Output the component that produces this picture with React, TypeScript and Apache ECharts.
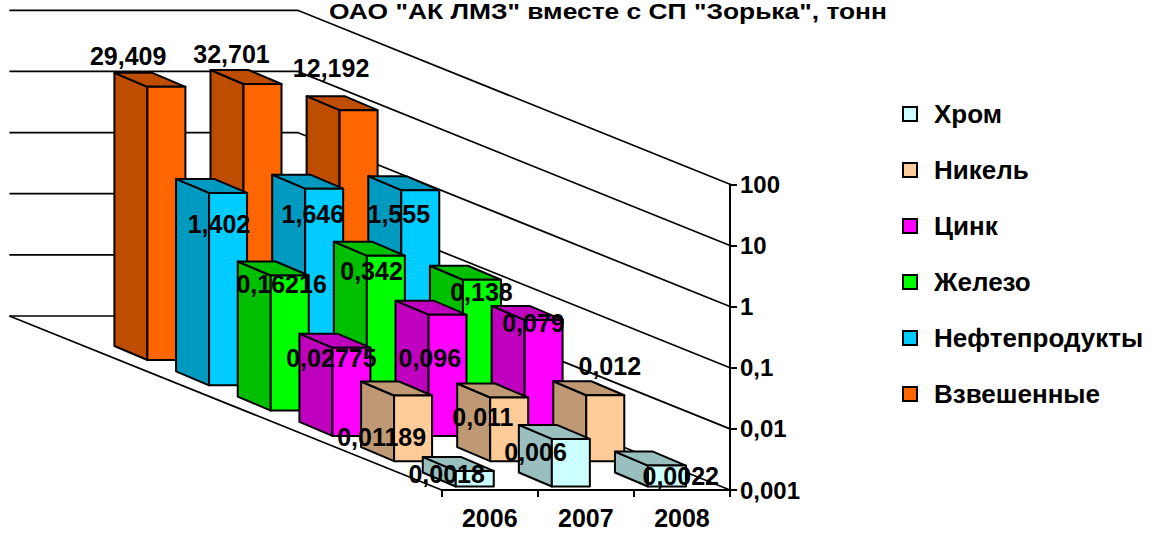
import React, { useEffect, useRef } from "react";
import * as echarts from "echarts";

const years = ["2006", "2007", "2008"];
const titleText = 'ОАО "АК ЛМЗ" вместе с СП "Зорька", тонн';
const yTicks = [100, 10, 1, 0.1, 0.01, 0.001];

const vzveshennye = [29.409, 32.701, 12.192];
const nefteprodukty = [1.402, 1.646, 1.555];
const zhelezo = [0.16216, 0.342, 0.138];
const tsink = [0.02775, 0.096, 0.079];
const nikel = [0.01189, 0.011, 0.012];
const khrom = [0.0018, 0.006, 0.0022];

// back row first, depth = rows in front of it
const rows = [
  { name: "Взвешенные", values: vzveshennye, front: "#FF6600", dark: "#BF4D00", depth: 5 },
  { name: "Нефтепродукты", values: nefteprodukty, front: "#00CCFF", dark: "#0099BF", depth: 4 },
  { name: "Железо", values: zhelezo, front: "#00FF00", dark: "#00BF00", depth: 3 },
  { name: "Цинк", values: tsink, front: "#FF00FF", dark: "#BF00BF", depth: 2 },
  { name: "Никель", values: nikel, front: "#FFCC99", dark: "#BF9973", depth: 1 },
  { name: "Хром", values: khrom, front: "#CCFFFF", dark: "#99BFBF", depth: 0 },
];
const legendOrder = ["Хром", "Никель", "Цинк", "Железо", "Нефтепродукты", "Взвешенные"];

// Oblique projection
const ROW_DX = 61.67;
const ROW_DY = 25.3;
const BASE_DX = 15;
const BASE_DY = 3.5;
const BAR_W = 38;
const SIDE_DX = 33;
const SIDE_DY = 14;
const WALL_DX = 432.3;
const WALL_DY = 174;
const FONT = "Liberation Sans";

// label nudges from the front-top centre of each bar, [row depth][category]
const labelNudge: number[][][] = [
  [[-28.1, 3.1], [-35.3, 12.6], [13.8, 10.5]],
  [[-31.4, 41.3], [-26.3, 19.2], [4.5, -29.2]],
  [[-20, 9.9], [-17.7, 42.9], [-10.2, 2.7]],
  [[-8.1, 8.7], [-14.3, 15], [-0.5, 12.1]],
  [[-9.1, 31.3], [-11.3, 25.6], [-21.5, 24]],
  [[-38.2, -30.7], [-31, -29.7], [-27.5, -41.9]],
];

const project = (api: any, cat: number, val: number, depth: number) => {
  const [x, y] = api.coord([cat, val]);
  return [x - BASE_DX - depth * ROW_DX, y - BASE_DY - depth * ROW_DY];
};

const renderBar = (front: string, dark: string, depth: number) => (_p: any, api: any) => {
  const cat = api.value(0);
  const [cx, top] = project(api, cat, api.value(1), depth);
  const [, bottom] = project(api, cat, 0.001, depth);
  const l = cx - BAR_W / 2;
  const r = cx + BAR_W / 2;
  const style = (fill: string) => ({ fill, stroke: "#000", lineWidth: 2, lineJoin: "round" });
  return {
    type: "group",
    children: [
      {
        type: "polygon",
        shape: { points: [[l, top], [l - SIDE_DX, top - SIDE_DY], [l - SIDE_DX, bottom - SIDE_DY], [l, bottom]] },
        style: style(dark),
      },
      {
        type: "polygon",
        shape: { points: [[l, top], [l - SIDE_DX, top - SIDE_DY], [r - SIDE_DX, top - SIDE_DY], [r, top]] },
        style: style(dark),
      },
      {
        type: "polygon",
        shape: { points: [[l, top], [r, top], [r, bottom], [l, bottom]] },
        style: style(front),
      },
    ],
  };
};

const renderWall = (params: any, api: any) => {
  const cs = params.coordSys;
  const right = cs.x + cs.width;
  const left = cs.x;
  const y = api.coord([0, api.value(0)])[1];
  const line = { stroke: "#000", lineWidth: 1.7, fill: "none" };
  const children: any[] = [
    {
      type: "polyline",
      shape: { points: [[left - WALL_DX, y - WALL_DY], [right - WALL_DX, y - WALL_DY], [right, y]] },
      style: line,
    },
  ];
  if (api.value(0) === 0.001) {
    children.push({
      type: "polyline",
      shape: { points: [[left - WALL_DX, y - WALL_DY], [left, y]] },
      style: line,
    });
  }
  return { type: "group", children };
};

const renderLabel = (_p: any, api: any) => {
  const cat = api.value(0);
  const val = api.value(1);
  const depth = api.value(2);
  const [x, y] = project(api, cat, val, depth);
  const [dx, dy] = labelNudge[depth][cat];
  return {
    type: "text",
    style: {
      text: String(val).replace(".", ","),
      x: x + dx,
      y: y + dy,
      align: "center",
      verticalAlign: "middle",
      fill: "#000",
      font: `bold 25px "${FONT}"`,
    },
  };
};

export default function App() {
  const ref = useRef<HTMLDivElement>(null);
  useEffect(() => {
    const chart = echarts.init(ref.current!, undefined, { renderer: "svg" });
    const series: any[] = [
      {
        type: "custom",
        name: "walls",
        coordinateSystem: "cartesian2d",
        renderItem: renderWall,
        clip: false,
        z: 1,
        encode: { y: 0 },
        data: yTicks.map((t) => [t]),
      },
      ...rows.map((row, i) => ({
        type: "custom",
        name: row.name,
        coordinateSystem: "cartesian2d",
        renderItem: renderBar(row.front, row.dark, row.depth),
        clip: false,
        z: 2 + i,
        itemStyle: { color: row.front },
        encode: { x: 0, y: 1 },
        data: row.values.map((v, c) => [c, v]),
      })),
      {
        type: "custom",
        name: "labels",
        coordinateSystem: "cartesian2d",
        renderItem: renderLabel,
        clip: false,
        z: 20,
        encode: { x: 0, y: 1 },
        data: rows.flatMap((row) => row.values.map((v, c) => [c, v, row.depth])),
      },
    ];
    chart.setOption({
      animation: false,
      backgroundColor: "#fff",
      graphic: [
        {
          type: "text",
          x: 329,
          y: 0,
          scaleX: 1.2,
          style: {
            text: titleText,
            fill: "#000",
            font: `bold 22px "${FONT}"`,
            verticalAlign: "top",
          },
        },
      ],
      legend: {
        orient: "vertical",
        left: 902,
        top: 101,
        itemWidth: 14,
        itemHeight: 14,
        itemGap: 30,
        padding: 0,
        icon: "rect",
        data: legendOrder.map((name) => {
          const row = rows.find((r) => r.name === name)!;
          return { name, itemStyle: { color: row.front, borderColor: "#000", borderWidth: 2 } };
        }),
        textStyle: { fontFamily: FONT, fontWeight: "bold", fontSize: 26, color: "#000", padding: [0, 0, 0, 12] },
      },
      grid: { left: 441.7, right: 426, top: 184.3, bottom: 44, containLabel: false },
      xAxis: {
        type: "category",
        data: years,
        axisLine: { lineStyle: { color: "#000", width: 2 } },
        axisTick: { show: true, length: 7, lineStyle: { color: "#000", width: 2 } },
        axisLabel: { fontFamily: FONT, fontWeight: "bold", fontSize: 25, color: "#000", margin: 15 },
        splitLine: { show: false },
      },
      yAxis: {
        type: "log",
        logBase: 10,
        min: 0.001,
        max: 100,
        position: "right",
        axisLine: { show: true, lineStyle: { color: "#000", width: 2 } },
        axisTick: { show: true, length: 7, lineStyle: { color: "#000", width: 2 } },
        axisLabel: {
          fontFamily: FONT,
          fontWeight: "bold",
          fontSize: 24,
          color: "#000",
          margin: 10,
          formatter: (v: number) => String(+v.toPrecision(1)).replace(".", ","),
        },
        splitLine: { show: false },
        minorTick: { show: false },
      },
      series,
    });
    return () => chart.dispose();
  }, []);
  return <div ref={ref} style={{ position: "fixed", left: 0, top: 0, width: 1156, height: 534 }} />;
}
